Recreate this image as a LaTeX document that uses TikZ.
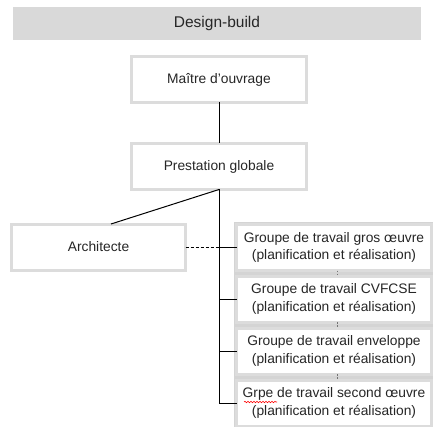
\documentclass[tikz,border=0pt]{standalone}
\usepackage{fontspec}
\setmainfont{Liberation Sans}
\usetikzlibrary{decorations.pathmorphing}
\definecolor{txt}{HTML}{262626}
\definecolor{glow}{HTML}{DCDCDC}
\definecolor{band}{HTML}{D9D9D9}
\tikzset{
  box/.style={rectangle, fill=white, draw=glow, line width=3pt, inner sep=0pt, outer sep=0pt,
    text=txt, font=\fontsize{13.8}{17.5}\selectfont, align=center},
  wide/.style={box, minimum width=175pt, minimum height=46pt},
  grp/.style={box, minimum width=195pt, minimum height=46pt},
  conn/.style={draw=black, line width=1pt},
  dotconn/.style={draw=black!55, line width=0.9pt, dash pattern=on 1.5pt off 1.5pt}
}
\begin{document}
\begin{tikzpicture}[x=1pt,y=1pt]
\useasboundingbox (0,0) rectangle (433,426);
\node[fill=band, minimum width=408pt, minimum height=33pt, inner sep=0pt,
  text=txt, font=\fontsize{15.5}{18}\selectfont] (hdr) at (217,402.5) {Design-build};
\node[wide] (mo) at (219,346.5) {Maître d’ouvrage};
\node[wide] (pg) at (219,259.5) {Prestation globale};
\node[wide, minimum width=174pt] (ar) at (98.5,179) {Architecte};
\fill[black!17] (234,-2) rectangle (435,204);
\node[grp] (g1) at (334,178.5) {Groupe de travail gros œuvre\\(planification et réalisation)};
\node[grp] (g2) at (334,127) {Groupe de travail CVFCSE\\(planification et réalisation)};
\node[grp] (g3) at (334,75) {Groupe de travail enveloppe\\(planification et réalisation)};
\node[grp] (g4) at (334,23) {Grpe de travail second œuvre\\(planification et réalisation)};
\draw[red, line width=0.6pt, decorate, decoration={snake, amplitude=0.7pt, segment length=3pt}]
  (244,24) -- (277,24);
\draw[conn] (mo.south) -- (pg.north);
\draw[conn] (pg.south) -- (pg.south |- g4.west) -- (g4.west);
\draw[conn] (pg.south |- g1.west) -- (g1.west);
\draw[conn] (pg.south |- g2.west) -- (g2.west);
\draw[conn] (pg.south |- g3.west) -- (g3.west);
\draw[conn] (pg.south) -- ([xshift=12.5pt]ar.north);
\draw[conn, dash pattern=on 3pt off 2pt] (ar.east) -- (ar.east -| pg.south);
\draw[dotconn] ([xshift=3pt]g1.south) -- ([xshift=3pt]g2.north);
\draw[dotconn] ([xshift=3pt]g2.south) -- ([xshift=3pt]g3.north);
\draw[dotconn] ([xshift=3pt]g3.south) -- ([xshift=3pt]g4.north);
\end{tikzpicture}
\end{document}
